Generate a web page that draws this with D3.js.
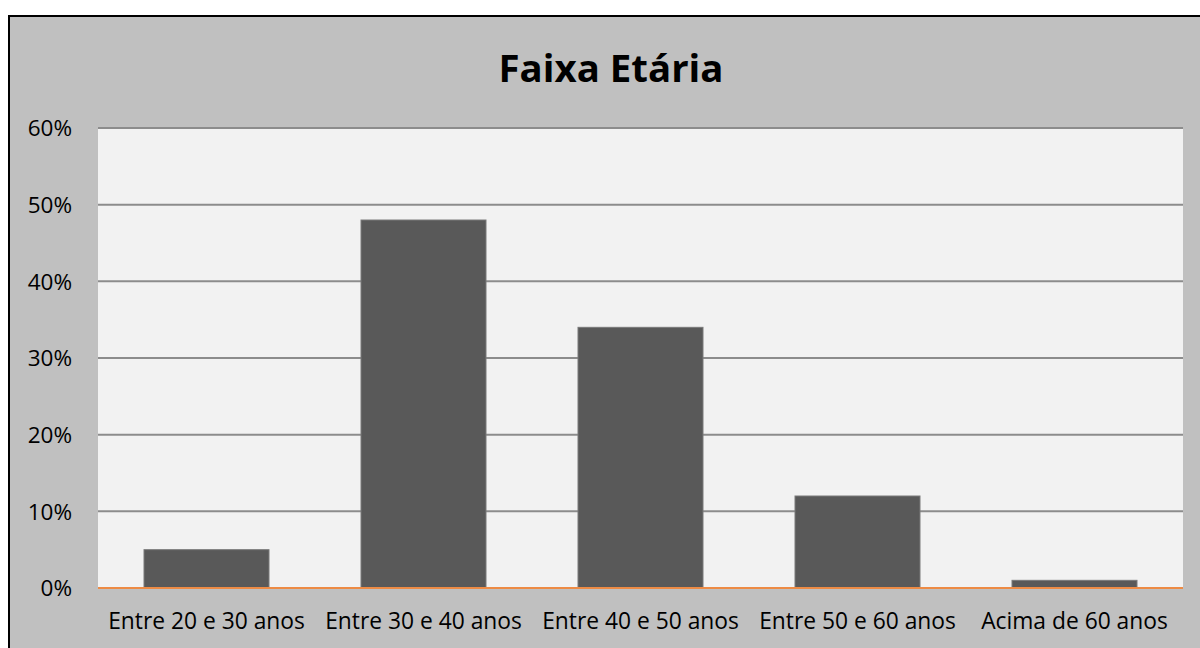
<!DOCTYPE html>
<html>
<head>
<meta charset="utf-8">
<script src="https://cdn.jsdelivr.net/npm/d3@7"></script>
<style>
  html, body { margin: 0; padding: 0; background: #ffffff; }
  svg { display: block; }
</style>
</head>
<body>
<svg id="chart" width="1200" height="648"></svg>
<script>
const title = "Faixa Etária";
const categories = ["Entre 20 e 30 anos", "Entre 30 e 40 anos", "Entre 40 e 50 anos", "Entre 50 e 60 anos", "Acima de 60 anos"];
const values = [0.05, 0.48, 0.34, 0.12, 0.01];
const yTicks = [0, 0.1, 0.2, 0.3, 0.4, 0.5, 0.6];

const svg = d3.select("#chart");
const W = 1200, H = 648;
const FONT = "'Open Sans', 'DejaVu Sans', sans-serif";

// chart area background and border
svg.append("rect").attr("x", 9).attr("y", 16).attr("width", W + 20).attr("height", H + 20)
  .attr("fill", "#c0c0c0").attr("stroke", "#000").attr("stroke-width", 2);

const plot = { left: 98, right: 1183, top: 128, bottom: 588 };

const x = d3.scaleBand().domain(categories).range([plot.left, plot.right]).paddingInner(0.424).paddingOuter(0.212);
const y = d3.scaleLinear().domain([0, 0.6]).range([plot.bottom, plot.top]);

svg.append("rect").attr("x", plot.left).attr("y", plot.top)
  .attr("width", plot.right - plot.left).attr("height", plot.bottom - plot.top)
  .attr("fill", "#f2f2f2");

// gridlines
svg.append("g").selectAll("line").data(yTicks.filter(t => t > 0)).join("line")
  .attr("x1", plot.left).attr("x2", plot.right)
  .attr("y1", d => y(d)).attr("y2", d => y(d))
  .attr("stroke", "#8c8c8c").attr("stroke-width", 2);

// bars
svg.append("g").selectAll("rect").data(values).join("rect")
  .attr("x", (d, i) => x(categories[i]))
  .attr("y", d => y(d))
  .attr("width", x.bandwidth())
  .attr("height", d => y(0) - y(d))
  .attr("fill", "#595959")
  .attr("stroke", "#7a7a7a").attr("stroke-width", 1);

// baseline
svg.append("line").attr("x1", plot.left).attr("x2", plot.right)
  .attr("y1", y(0)).attr("y2", y(0))
  .attr("stroke", "#ed8b45").attr("stroke-width", 2);

// y axis
const yAxis = d3.axisLeft(y).tickValues(yTicks).tickFormat(d3.format(".0%")).tickSize(0).tickPadding(0);
const yg = svg.append("g").attr("transform", `translate(72,0)`).call(yAxis);
yg.select(".domain").remove();
yg.selectAll("text").attr("font-family", FONT).attr("font-size", 22.5).attr("fill", "#000").attr("dy", "0.35em");

// x axis
const xAxis = d3.axisBottom(x).tickSize(0).tickPadding(0);
const xg = svg.append("g").attr("transform", `translate(0,${plot.bottom})`).call(xAxis);
xg.select(".domain").remove();
xg.selectAll("text").attr("font-family", FONT).attr("font-size", 22.8).attr("fill", "#000")
  .attr("dy", null).attr("y", 41);

// title
svg.append("text").attr("x", 611).attr("y", 82).attr("text-anchor", "middle")
  .attr("font-family", FONT).attr("font-weight", "bold").attr("font-size", 38.4)
  .attr("fill", "#000").text(title);
</script>
</body>
</html>
